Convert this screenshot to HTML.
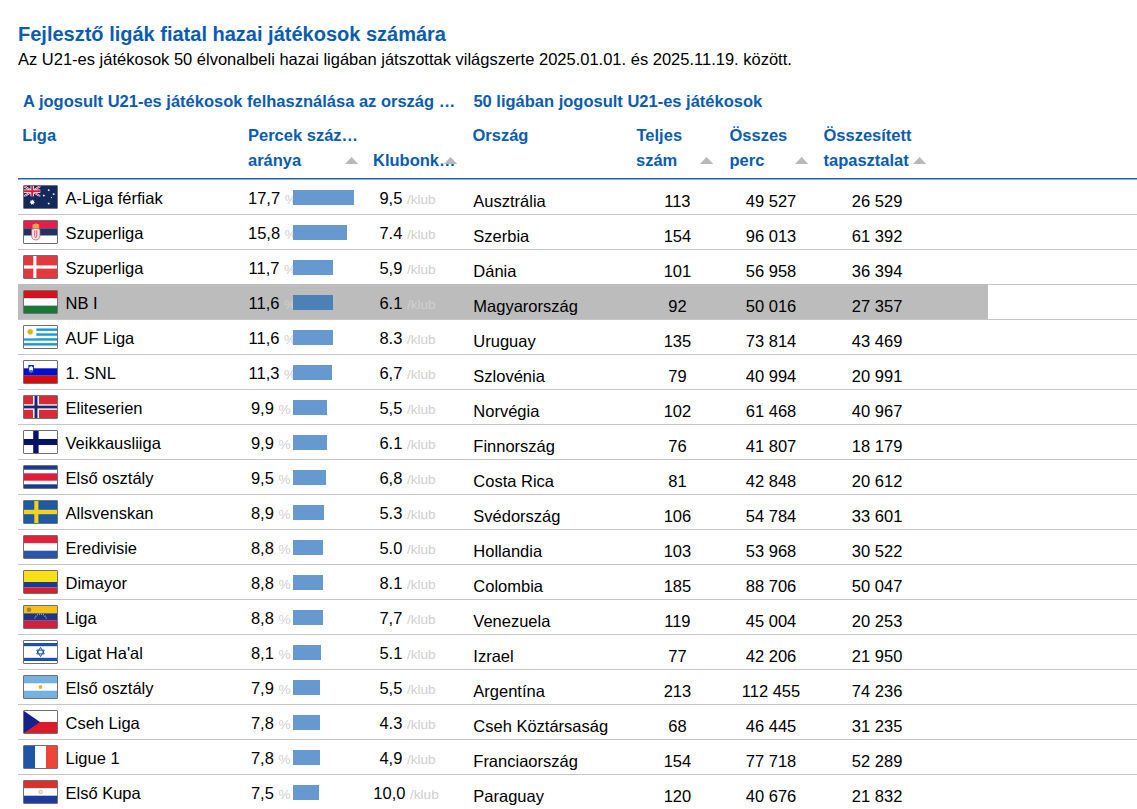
<!DOCTYPE html>
<html><head><meta charset="utf-8"><title>Fejlesztő ligák</title>
<style>
html,body{margin:0;padding:0;background:#fff;}
body{width:1137px;height:809px;overflow:hidden;position:relative;font-family:"Liberation Sans",sans-serif;color:#000;}
.t{position:absolute;line-height:1;white-space:nowrap;}
.sm{font-size:13.6px;color:#cfcfcf;}
.arr{position:absolute;}
.flag{position:absolute;left:23px;width:33px;height:22px;border:1px solid #707070;border-radius:1px;overflow:hidden;line-height:0;}
.flag svg{display:block;}
.bar{position:absolute;left:293px;height:15px;}
</style></head><body>
<div class="t" style="left:18.00px;top:24.07px;font-size:20px;font-weight:700;color:#0b5cb0;">Fejlesztő ligák fiatal hazai játékosok számára</div>
<div class="t" style="left:18.00px;top:51.03px;font-size:16.5px;">Az U21-es játékosok 50 élvonalbeli hazai ligában játszottak világszerte 2025.01.01. és 2025.11.19. között.</div>
<div class="t" style="left:23.00px;top:92.73px;font-size:16.5px;font-weight:700;color:#0b5cb0;">A jogosult U21-es játékosok felhasználása az ország …</div>
<div class="t" style="left:473.40px;top:92.73px;font-size:16.5px;font-weight:700;color:#0b5cb0;">50 ligában jogosult U21-es játékosok</div>
<div class="t" style="left:22.20px;top:126.73px;font-size:16.5px;font-weight:700;color:#0b5cb0;">Liga</div>
<div class="t" style="left:248.00px;top:126.73px;font-size:16.5px;font-weight:700;color:#0b5cb0;">Percek száz…</div>
<div class="t" style="left:248.00px;top:151.73px;font-size:16.5px;font-weight:700;color:#0b5cb0;">aránya</div>
<div class="t" style="left:373.00px;top:151.73px;font-size:16.5px;font-weight:700;color:#0b5cb0;">Klubonk…</div>
<div class="t" style="left:472.50px;top:126.73px;font-size:16.5px;font-weight:700;color:#0b5cb0;">Ország</div>
<div class="t" style="left:636.50px;top:126.73px;font-size:16.5px;font-weight:700;color:#0b5cb0;">Teljes</div>
<div class="t" style="left:636.00px;top:151.73px;font-size:16.5px;font-weight:700;color:#0b5cb0;">szám</div>
<div class="t" style="left:729.50px;top:126.73px;font-size:16.5px;font-weight:700;color:#0b5cb0;">Összes</div>
<div class="t" style="left:729.50px;top:151.73px;font-size:16.5px;font-weight:700;color:#0b5cb0;">perc</div>
<div class="t" style="left:823.50px;top:126.73px;font-size:16.5px;font-weight:700;color:#0b5cb0;">Összesített</div>
<div class="t" style="left:823.50px;top:151.73px;font-size:16.5px;font-weight:700;color:#0b5cb0;">tapasztalat</div>
<svg class="arr" style="left:344.5px;top:157px" width="13.2" height="7" viewBox="0 0 13.2 7"><polygon points="0,7 6.6,0 13.2,7" fill="#b9b9b9"/></svg>
<svg class="arr" style="left:444.4px;top:157px" width="13.2" height="7" viewBox="0 0 13.2 7"><polygon points="0,7 6.6,0 13.2,7" fill="#b9b9b9"/></svg>
<svg class="arr" style="left:700.2px;top:157px" width="13.2" height="7" viewBox="0 0 13.2 7"><polygon points="0,7 6.6,0 13.2,7" fill="#b9b9b9"/></svg>
<svg class="arr" style="left:794.5px;top:157px" width="13.2" height="7" viewBox="0 0 13.2 7"><polygon points="0,7 6.6,0 13.2,7" fill="#b9b9b9"/></svg>
<svg class="arr" style="left:912.7px;top:157px" width="13.2" height="7" viewBox="0 0 13.2 7"><polygon points="0,7 6.6,0 13.2,7" fill="#b9b9b9"/></svg>
<div style="position:absolute;left:18px;top:178px;width:1119px;height:1px;background:#1e64b6"></div>
<div style="position:absolute;left:18px;top:179px;width:1119px;height:1px;background:#8fb2da"></div>
<div style="position:absolute;left:18px;top:214px;width:1119px;height:1px;background:#c6c6c6"></div>
<div class="flag" style="top:185px"><svg width="33" height="22" viewBox="0 0 33 22" preserveAspectRatio="none"><rect width="33" height="22" fill="#13285c"/><g><clipPath id="cp"><rect width="16.5" height="10.5"/></clipPath><g clip-path="url(#cp)"><path d="M0,0L16.5,10.5M16.5,0L0,10.5" stroke="#fff" stroke-width="2"/><path d="M0,0L16.5,10.5M16.5,0L0,10.5" stroke="#d51a3a" stroke-width="0.9"/><path d="M8.25,0V10.5M0,5.25H16.5" stroke="#fff" stroke-width="3.4"/><path d="M8.25,0V10.5M0,5.25H16.5" stroke="#d51a3a" stroke-width="2"/></g></g><polygon points="8.30,13.50 9.00,14.84 10.49,14.55 9.88,15.94 11.03,16.92 9.57,17.31 9.51,18.82 8.30,17.92 7.09,18.82 7.03,17.31 5.57,16.92 6.72,15.94 6.11,14.55 7.60,14.84" fill="#fff"/><polygon points="24.70,2.90 24.98,3.61 25.72,3.39 25.33,4.06 25.97,4.49 25.21,4.61 25.26,5.37 24.70,4.85 24.14,5.37 24.19,4.61 23.43,4.49 24.07,4.06 23.68,3.39 24.42,3.61" fill="#fff"/><polygon points="29.70,6.90 29.98,7.61 30.72,7.39 30.33,8.06 30.97,8.49 30.21,8.61 30.26,9.37 29.70,8.85 29.14,9.37 29.19,8.61 28.43,8.49 29.07,8.06 28.68,7.39 29.42,7.61" fill="#fff"/><polygon points="19.80,8.30 20.08,9.01 20.82,8.79 20.43,9.46 21.07,9.89 20.31,10.01 20.36,10.77 19.80,10.25 19.24,10.77 19.29,10.01 18.53,9.89 19.17,9.46 18.78,8.79 19.52,9.01" fill="#fff"/><polygon points="27.40,10.80 27.64,11.28 28.16,11.35 27.78,11.72 27.87,12.25 27.40,12.00 26.93,12.25 27.02,11.72 26.64,11.35 27.16,11.28" fill="#fff"/><polygon points="24.70,16.30 24.98,17.01 25.72,16.79 25.33,17.46 25.97,17.89 25.21,18.01 25.26,18.77 24.70,18.25 24.14,18.77 24.19,18.01 23.43,17.89 24.07,17.46 23.68,16.79 24.42,17.01" fill="#fff"/></svg></div>
<div class="t" style="left:65.50px;top:189.83px;font-size:16.5px;">A-Liga férfiak</div>
<div class="t" style="left:222.40px;top:189.83px;font-size:16.5px;width:100px;text-align:center;">17,7 <span class="sm">%</span></div>
<div class="bar" style="top:190px;width:60.7px;background:#6699cf"></div>
<div class="t" style="left:357.50px;top:189.83px;font-size:16.5px;width:100px;text-align:center;">9,5 <span class="sm">/klub</span></div>
<div class="t" style="left:473.30px;top:192.83px;font-size:16.5px;">Ausztrália</div>
<div class="t" style="left:627.40px;top:192.83px;font-size:16.5px;width:100px;text-align:center;">113</div>
<div class="t" style="left:721.00px;top:192.83px;font-size:16.5px;width:100px;text-align:center;">49 527</div>
<div class="t" style="left:827.10px;top:192.83px;font-size:16.5px;width:100px;text-align:center;">26 529</div>
<div style="position:absolute;left:18px;top:249px;width:1119px;height:1px;background:#c6c6c6"></div>
<div class="flag" style="top:220px"><svg width="33" height="22" viewBox="0 0 33 22" preserveAspectRatio="none"><rect width="33" height="7.4" fill="#e41b4b"/><rect y="7.3" width="33" height="7.4" fill="#1d3462"/><rect y="14.7" width="33" height="7.3" fill="#fff"/><path d="M7.6,8.2Q11.8,6.6,16,8.2V14.5Q16,18.6,11.8,19Q7.6,18.6,7.6,14.5Z" fill="#f2e6e8"/><path d="M7.6,8.2Q11.8,6.6,16,8.2V14.5Q16,18.6,11.8,19Q7.6,18.6,7.6,14.5Z" fill="none" stroke="#d04050" stroke-width="0.7"/><path d="M10.3,9.5H13.3V14.2Q13.3,16.5,11.8,16.9Q10.3,16.5,10.3,14.2Z" fill="#d8485a"/><rect x="11.3" y="9.8" width="1" height="6" fill="#fff"/><path d="M8.5,3.6Q11.8,2,15.1,3.6V7.6H8.5Z" fill="#e3a64a"/><circle cx="11.8" cy="2.8" r="0.8" fill="#d09030"/></svg></div>
<div class="t" style="left:65.50px;top:224.83px;font-size:16.5px;">Szuperliga</div>
<div class="t" style="left:222.40px;top:224.83px;font-size:16.5px;width:100px;text-align:center;">15,8 <span class="sm">%</span></div>
<div class="bar" style="top:225px;width:54.2px;background:#6699cf"></div>
<div class="t" style="left:357.50px;top:224.83px;font-size:16.5px;width:100px;text-align:center;">7.4 <span class="sm">/klub</span></div>
<div class="t" style="left:473.30px;top:227.83px;font-size:16.5px;">Szerbia</div>
<div class="t" style="left:627.40px;top:227.83px;font-size:16.5px;width:100px;text-align:center;">154</div>
<div class="t" style="left:721.00px;top:227.83px;font-size:16.5px;width:100px;text-align:center;">96 013</div>
<div class="t" style="left:827.10px;top:227.83px;font-size:16.5px;width:100px;text-align:center;">61 392</div>
<div style="position:absolute;left:18px;top:284px;width:1119px;height:1px;background:#c6c6c6"></div>
<div class="flag" style="top:255px"><svg width="33" height="22" viewBox="0 0 33 22" preserveAspectRatio="none"><rect width="33" height="22" fill="#e2393f"/><rect x="9.3" width="3.1" height="22" fill="#fff"/><rect y="9.4" width="33" height="3.2" fill="#fff"/></svg></div>
<div class="t" style="left:65.50px;top:259.83px;font-size:16.5px;">Szuperliga</div>
<div class="t" style="left:222.40px;top:259.83px;font-size:16.5px;width:100px;text-align:center;">11,7 <span class="sm">%</span></div>
<div class="bar" style="top:260px;width:40.1px;background:#6699cf"></div>
<div class="t" style="left:357.50px;top:259.83px;font-size:16.5px;width:100px;text-align:center;">5,9 <span class="sm">/klub</span></div>
<div class="t" style="left:473.30px;top:262.83px;font-size:16.5px;">Dánia</div>
<div class="t" style="left:627.40px;top:262.83px;font-size:16.5px;width:100px;text-align:center;">101</div>
<div class="t" style="left:721.00px;top:262.83px;font-size:16.5px;width:100px;text-align:center;">56 958</div>
<div class="t" style="left:827.10px;top:262.83px;font-size:16.5px;width:100px;text-align:center;">36 394</div>
<div style="position:absolute;left:18px;top:284px;width:970px;height:35px;background:#bcbcbc"></div>
<div style="position:absolute;left:18px;top:319px;width:1119px;height:1px;background:#c6c6c6"></div>
<div class="flag" style="top:290px"><svg width="33" height="22" viewBox="0 0 33 22" preserveAspectRatio="none"><rect width="33" height="7.4" fill="#d8101c"/><rect y="7.3" width="33" height="7.4" fill="#fff"/><rect y="14.7" width="33" height="7.3" fill="#187a36"/></svg></div>
<div class="t" style="left:65.50px;top:294.83px;font-size:16.5px;">NB I</div>
<div class="t" style="left:222.40px;top:294.83px;font-size:16.5px;width:100px;text-align:center;">11,6 <span class="sm">%</span></div>
<div class="bar" style="top:295px;width:39.8px;background:#4c81b8"></div>
<div class="t" style="left:357.50px;top:294.83px;font-size:16.5px;width:100px;text-align:center;">6.1 <span class="sm">/klub</span></div>
<div class="t" style="left:473.30px;top:297.83px;font-size:16.5px;">Magyarország</div>
<div class="t" style="left:627.40px;top:297.83px;font-size:16.5px;width:100px;text-align:center;">92</div>
<div class="t" style="left:721.00px;top:297.83px;font-size:16.5px;width:100px;text-align:center;">50 016</div>
<div class="t" style="left:827.10px;top:297.83px;font-size:16.5px;width:100px;text-align:center;">27 357</div>
<div style="position:absolute;left:18px;top:354px;width:1119px;height:1px;background:#c6c6c6"></div>
<div class="flag" style="top:325px"><svg width="33" height="22" viewBox="0 0 33 22" preserveAspectRatio="none"><rect width="33" height="22" fill="#fff"/><rect y="2.44" width="33" height="2.44" fill="#1a9ad8"/><rect y="7.33" width="33" height="2.44" fill="#1a9ad8"/><rect y="12.22" width="33" height="2.44" fill="#1a9ad8"/><rect y="17.11" width="33" height="2.44" fill="#1a9ad8"/><rect width="12.3" height="12.22" fill="#fff"/><polygon points="6.20,2.40 6.68,3.40 7.50,2.66 7.56,3.76 8.60,3.40 8.24,4.44 9.34,4.50 8.60,5.32 9.60,5.80 8.60,6.28 9.34,7.10 8.24,7.16 8.60,8.20 7.56,7.84 7.50,8.94 6.68,8.20 6.20,9.20 5.72,8.20 4.90,8.94 4.84,7.84 3.80,8.20 4.16,7.16 3.06,7.10 3.80,6.28 2.80,5.80 3.80,5.32 3.06,4.50 4.16,4.44 3.80,3.40 4.84,3.76 4.90,2.66 5.72,3.40" fill="#f0c040"/><circle cx="6.2" cy="5.8" r="2.4" fill="#e0b020"/></svg></div>
<div class="t" style="left:65.50px;top:329.83px;font-size:16.5px;">AUF Liga</div>
<div class="t" style="left:222.40px;top:329.83px;font-size:16.5px;width:100px;text-align:center;">11,6 <span class="sm">%</span></div>
<div class="bar" style="top:330px;width:39.8px;background:#6699cf"></div>
<div class="t" style="left:357.50px;top:329.83px;font-size:16.5px;width:100px;text-align:center;">8.3 <span class="sm">/klub</span></div>
<div class="t" style="left:473.30px;top:332.83px;font-size:16.5px;">Uruguay</div>
<div class="t" style="left:627.40px;top:332.83px;font-size:16.5px;width:100px;text-align:center;">135</div>
<div class="t" style="left:721.00px;top:332.83px;font-size:16.5px;width:100px;text-align:center;">73 814</div>
<div class="t" style="left:827.10px;top:332.83px;font-size:16.5px;width:100px;text-align:center;">43 469</div>
<div style="position:absolute;left:18px;top:389px;width:1119px;height:1px;background:#c6c6c6"></div>
<div class="flag" style="top:360px"><svg width="33" height="22" viewBox="0 0 33 22" preserveAspectRatio="none"><rect width="33" height="7.4" fill="#fff"/><rect y="7.3" width="33" height="7.4" fill="#0410c8"/><rect y="14.7" width="33" height="7.3" fill="#d80a0a"/><path d="M4.3,4H9.9V8.5Q9.9,11.8,7.1,12.6Q4.3,11.8,4.3,8.5Z" fill="#1030d0"/><path d="M5.2,6.5L7.1,5L9,6.5V8.8Q9,11,7.1,11.6Q5.2,11,5.2,8.8Z" fill="#fff"/><path d="M5.2,9.6Q7.1,8.6,9,9.6V10.4Q7.1,11.8,5.2,10.4Z" fill="#4060e0"/></svg></div>
<div class="t" style="left:65.50px;top:364.83px;font-size:16.5px;">1. SNL</div>
<div class="t" style="left:222.40px;top:364.83px;font-size:16.5px;width:100px;text-align:center;">11,3 <span class="sm">%</span></div>
<div class="bar" style="top:365px;width:38.8px;background:#6699cf"></div>
<div class="t" style="left:357.50px;top:364.83px;font-size:16.5px;width:100px;text-align:center;">6,7 <span class="sm">/klub</span></div>
<div class="t" style="left:473.30px;top:367.83px;font-size:16.5px;">Szlovénia</div>
<div class="t" style="left:627.40px;top:367.83px;font-size:16.5px;width:100px;text-align:center;">79</div>
<div class="t" style="left:721.00px;top:367.83px;font-size:16.5px;width:100px;text-align:center;">40 994</div>
<div class="t" style="left:827.10px;top:367.83px;font-size:16.5px;width:100px;text-align:center;">20 991</div>
<div style="position:absolute;left:18px;top:424px;width:1119px;height:1px;background:#c6c6c6"></div>
<div class="flag" style="top:395px"><svg width="33" height="22" viewBox="0 0 33 22" preserveAspectRatio="none"><rect width="33" height="22" fill="#d72a34"/><rect x="9" width="6" height="22" fill="#fff"/><rect y="8.25" width="33" height="5.5" fill="#fff"/><rect x="10.5" width="3" height="22" fill="#1a2a72"/><rect y="9.6" width="33" height="2.8" fill="#1a2a72"/></svg></div>
<div class="t" style="left:65.50px;top:399.83px;font-size:16.5px;">Eliteserien</div>
<div class="t" style="left:220.70px;top:399.83px;font-size:16.5px;width:100px;text-align:center;">9,9 <span class="sm">%</span></div>
<div class="bar" style="top:400px;width:34.0px;background:#6699cf"></div>
<div class="t" style="left:357.50px;top:399.83px;font-size:16.5px;width:100px;text-align:center;">5,5 <span class="sm">/klub</span></div>
<div class="t" style="left:473.30px;top:402.83px;font-size:16.5px;">Norvégia</div>
<div class="t" style="left:627.40px;top:402.83px;font-size:16.5px;width:100px;text-align:center;">102</div>
<div class="t" style="left:721.00px;top:402.83px;font-size:16.5px;width:100px;text-align:center;">61 468</div>
<div class="t" style="left:827.10px;top:402.83px;font-size:16.5px;width:100px;text-align:center;">40 967</div>
<div style="position:absolute;left:18px;top:459px;width:1119px;height:1px;background:#c6c6c6"></div>
<div class="flag" style="top:430px"><svg width="33" height="22" viewBox="0 0 33 22" preserveAspectRatio="none"><rect width="33" height="22" fill="#fff"/><rect x="9.2" width="5.4" height="22" fill="#04126a"/><rect y="8" width="33" height="6" fill="#04126a"/></svg></div>
<div class="t" style="left:65.50px;top:434.83px;font-size:16.5px;">Veikkausliiga</div>
<div class="t" style="left:220.70px;top:434.83px;font-size:16.5px;width:100px;text-align:center;">9,9 <span class="sm">%</span></div>
<div class="bar" style="top:435px;width:34.0px;background:#6699cf"></div>
<div class="t" style="left:357.50px;top:434.83px;font-size:16.5px;width:100px;text-align:center;">6.1 <span class="sm">/klub</span></div>
<div class="t" style="left:473.30px;top:437.83px;font-size:16.5px;">Finnország</div>
<div class="t" style="left:627.40px;top:437.83px;font-size:16.5px;width:100px;text-align:center;">76</div>
<div class="t" style="left:721.00px;top:437.83px;font-size:16.5px;width:100px;text-align:center;">41 807</div>
<div class="t" style="left:827.10px;top:437.83px;font-size:16.5px;width:100px;text-align:center;">18 179</div>
<div style="position:absolute;left:18px;top:494px;width:1119px;height:1px;background:#c6c6c6"></div>
<div class="flag" style="top:465px"><svg width="33" height="22" viewBox="0 0 33 22" preserveAspectRatio="none"><rect width="33" height="22" fill="#fff"/><rect width="33" height="3.7" fill="#1a3c8a"/><rect y="18.3" width="33" height="3.7" fill="#1a3c8a"/><rect y="7.3" width="33" height="7.4" fill="#e01c3c"/></svg></div>
<div class="t" style="left:65.50px;top:469.83px;font-size:16.5px;">Első osztály</div>
<div class="t" style="left:220.70px;top:469.83px;font-size:16.5px;width:100px;text-align:center;">9,5 <span class="sm">%</span></div>
<div class="bar" style="top:470px;width:32.6px;background:#6699cf"></div>
<div class="t" style="left:357.50px;top:469.83px;font-size:16.5px;width:100px;text-align:center;">6,8 <span class="sm">/klub</span></div>
<div class="t" style="left:473.30px;top:472.83px;font-size:16.5px;">Costa Rica</div>
<div class="t" style="left:627.40px;top:472.83px;font-size:16.5px;width:100px;text-align:center;">81</div>
<div class="t" style="left:721.00px;top:472.83px;font-size:16.5px;width:100px;text-align:center;">42 848</div>
<div class="t" style="left:827.10px;top:472.83px;font-size:16.5px;width:100px;text-align:center;">20 612</div>
<div style="position:absolute;left:18px;top:529px;width:1119px;height:1px;background:#c6c6c6"></div>
<div class="flag" style="top:500px"><svg width="33" height="22" viewBox="0 0 33 22" preserveAspectRatio="none"><rect width="33" height="22" fill="#1d5aa6"/><rect x="10.3" width="4.1" height="22" fill="#f5d21c"/><rect y="8.8" width="33" height="4.4" fill="#f5d21c"/></svg></div>
<div class="t" style="left:65.50px;top:504.83px;font-size:16.5px;">Allsvenskan</div>
<div class="t" style="left:220.70px;top:504.83px;font-size:16.5px;width:100px;text-align:center;">8,9 <span class="sm">%</span></div>
<div class="bar" style="top:505px;width:30.5px;background:#6699cf"></div>
<div class="t" style="left:357.50px;top:504.83px;font-size:16.5px;width:100px;text-align:center;">5.3 <span class="sm">/klub</span></div>
<div class="t" style="left:473.30px;top:507.83px;font-size:16.5px;">Svédország</div>
<div class="t" style="left:627.40px;top:507.83px;font-size:16.5px;width:100px;text-align:center;">106</div>
<div class="t" style="left:721.00px;top:507.83px;font-size:16.5px;width:100px;text-align:center;">54 784</div>
<div class="t" style="left:827.10px;top:507.83px;font-size:16.5px;width:100px;text-align:center;">33 601</div>
<div style="position:absolute;left:18px;top:564px;width:1119px;height:1px;background:#c6c6c6"></div>
<div class="flag" style="top:535px"><svg width="33" height="22" viewBox="0 0 33 22" preserveAspectRatio="none"><rect width="33" height="7.4" fill="#e2223a"/><rect y="7.3" width="33" height="7.4" fill="#fff"/><rect y="14.7" width="33" height="7.3" fill="#2a55a8"/></svg></div>
<div class="t" style="left:65.50px;top:539.83px;font-size:16.5px;">Eredivisie</div>
<div class="t" style="left:220.70px;top:539.83px;font-size:16.5px;width:100px;text-align:center;">8,8 <span class="sm">%</span></div>
<div class="bar" style="top:540px;width:30.2px;background:#6699cf"></div>
<div class="t" style="left:357.50px;top:539.83px;font-size:16.5px;width:100px;text-align:center;">5.0 <span class="sm">/klub</span></div>
<div class="t" style="left:473.30px;top:542.83px;font-size:16.5px;">Hollandia</div>
<div class="t" style="left:627.40px;top:542.83px;font-size:16.5px;width:100px;text-align:center;">103</div>
<div class="t" style="left:721.00px;top:542.83px;font-size:16.5px;width:100px;text-align:center;">53 968</div>
<div class="t" style="left:827.10px;top:542.83px;font-size:16.5px;width:100px;text-align:center;">30 522</div>
<div style="position:absolute;left:18px;top:599px;width:1119px;height:1px;background:#c6c6c6"></div>
<div class="flag" style="top:570px"><svg width="33" height="22" viewBox="0 0 33 22" preserveAspectRatio="none"><rect width="33" height="11" fill="#f9e014"/><rect y="11" width="33" height="5.5" fill="#1a3a9a"/><rect y="16.5" width="33" height="5.5" fill="#d8202c"/></svg></div>
<div class="t" style="left:65.50px;top:574.83px;font-size:16.5px;">Dimayor</div>
<div class="t" style="left:220.70px;top:574.83px;font-size:16.5px;width:100px;text-align:center;">8,8 <span class="sm">%</span></div>
<div class="bar" style="top:575px;width:30.2px;background:#6699cf"></div>
<div class="t" style="left:357.50px;top:574.83px;font-size:16.5px;width:100px;text-align:center;">8.1 <span class="sm">/klub</span></div>
<div class="t" style="left:473.30px;top:577.83px;font-size:16.5px;">Colombia</div>
<div class="t" style="left:627.40px;top:577.83px;font-size:16.5px;width:100px;text-align:center;">185</div>
<div class="t" style="left:721.00px;top:577.83px;font-size:16.5px;width:100px;text-align:center;">88 706</div>
<div class="t" style="left:827.10px;top:577.83px;font-size:16.5px;width:100px;text-align:center;">50 047</div>
<div style="position:absolute;left:18px;top:634px;width:1119px;height:1px;background:#c6c6c6"></div>
<div class="flag" style="top:605px"><svg width="33" height="22" viewBox="0 0 33 22" preserveAspectRatio="none"><rect width="33" height="7.4" fill="#f6c21a"/><rect y="7.3" width="33" height="7.4" fill="#1d3484"/><rect y="14.7" width="33" height="7.3" fill="#d0203c"/><circle cx="5" cy="3.7" r="2.3" fill="#a08040"/><circle cx="10.86" cy="11.95" r="0.55" fill="#ddd"/><circle cx="11.90" cy="10.14" r="0.55" fill="#ddd"/><circle cx="13.50" cy="8.80" r="0.55" fill="#ddd"/><circle cx="15.46" cy="8.09" r="0.55" fill="#ddd"/><circle cx="17.54" cy="8.09" r="0.55" fill="#ddd"/><circle cx="19.50" cy="8.80" r="0.55" fill="#ddd"/><circle cx="21.10" cy="10.14" r="0.55" fill="#ddd"/><circle cx="22.14" cy="11.95" r="0.55" fill="#ddd"/></svg></div>
<div class="t" style="left:65.50px;top:609.83px;font-size:16.5px;">Liga</div>
<div class="t" style="left:220.70px;top:609.83px;font-size:16.5px;width:100px;text-align:center;">8,8 <span class="sm">%</span></div>
<div class="bar" style="top:610px;width:30.2px;background:#6699cf"></div>
<div class="t" style="left:357.50px;top:609.83px;font-size:16.5px;width:100px;text-align:center;">7,7 <span class="sm">/klub</span></div>
<div class="t" style="left:473.30px;top:612.83px;font-size:16.5px;">Venezuela</div>
<div class="t" style="left:627.40px;top:612.83px;font-size:16.5px;width:100px;text-align:center;">119</div>
<div class="t" style="left:721.00px;top:612.83px;font-size:16.5px;width:100px;text-align:center;">45 004</div>
<div class="t" style="left:827.10px;top:612.83px;font-size:16.5px;width:100px;text-align:center;">20 253</div>
<div style="position:absolute;left:18px;top:669px;width:1119px;height:1px;background:#c6c6c6"></div>
<div class="flag" style="top:640px"><svg width="33" height="22" viewBox="0 0 33 22" preserveAspectRatio="none"><rect width="33" height="22" fill="#fff"/><rect y="2" width="33" height="3.2" fill="#1d4fb0"/><rect y="16.8" width="33" height="3.2" fill="#1d4fb0"/><polygon points="16.5,6.4 20.3,12.9 12.7,12.9" fill="none" stroke="#1d4fb0" stroke-width="1"/><polygon points="16.5,15.6 20.3,9.1 12.7,9.1" fill="none" stroke="#1d4fb0" stroke-width="1"/></svg></div>
<div class="t" style="left:65.50px;top:644.83px;font-size:16.5px;">Ligat Ha'al</div>
<div class="t" style="left:220.70px;top:644.83px;font-size:16.5px;width:100px;text-align:center;">8,1 <span class="sm">%</span></div>
<div class="bar" style="top:645px;width:27.8px;background:#6699cf"></div>
<div class="t" style="left:357.50px;top:644.83px;font-size:16.5px;width:100px;text-align:center;">5.1 <span class="sm">/klub</span></div>
<div class="t" style="left:473.30px;top:647.83px;font-size:16.5px;">Izrael</div>
<div class="t" style="left:627.40px;top:647.83px;font-size:16.5px;width:100px;text-align:center;">77</div>
<div class="t" style="left:721.00px;top:647.83px;font-size:16.5px;width:100px;text-align:center;">42 206</div>
<div class="t" style="left:827.10px;top:647.83px;font-size:16.5px;width:100px;text-align:center;">21 950</div>
<div style="position:absolute;left:18px;top:704px;width:1119px;height:1px;background:#c6c6c6"></div>
<div class="flag" style="top:675px"><svg width="33" height="22" viewBox="0 0 33 22" preserveAspectRatio="none"><rect width="33" height="22" fill="#fff"/><rect width="33" height="7.3" fill="#75b2e2"/><rect y="14.7" width="33" height="7.3" fill="#75b2e2"/><circle cx="16.5" cy="11" r="1.9" fill="#f0b020"/></svg></div>
<div class="t" style="left:65.50px;top:679.83px;font-size:16.5px;">Első osztály</div>
<div class="t" style="left:220.70px;top:679.83px;font-size:16.5px;width:100px;text-align:center;">7,9 <span class="sm">%</span></div>
<div class="bar" style="top:680px;width:27.1px;background:#6699cf"></div>
<div class="t" style="left:357.50px;top:679.83px;font-size:16.5px;width:100px;text-align:center;">5,5 <span class="sm">/klub</span></div>
<div class="t" style="left:473.30px;top:682.83px;font-size:16.5px;">Argentína</div>
<div class="t" style="left:627.40px;top:682.83px;font-size:16.5px;width:100px;text-align:center;">213</div>
<div class="t" style="left:721.00px;top:682.83px;font-size:16.5px;width:100px;text-align:center;">112 455</div>
<div class="t" style="left:827.10px;top:682.83px;font-size:16.5px;width:100px;text-align:center;">74 236</div>
<div style="position:absolute;left:18px;top:739px;width:1119px;height:1px;background:#c6c6c6"></div>
<div class="flag" style="top:710px"><svg width="33" height="22" viewBox="0 0 33 22" preserveAspectRatio="none"><rect width="33" height="11" fill="#fff"/><rect y="11" width="33" height="11" fill="#dc1a2a"/><polygon points="0,0 16,11 0,22" fill="#14228a"/></svg></div>
<div class="t" style="left:65.50px;top:714.83px;font-size:16.5px;">Cseh Liga</div>
<div class="t" style="left:220.70px;top:714.83px;font-size:16.5px;width:100px;text-align:center;">7,8 <span class="sm">%</span></div>
<div class="bar" style="top:715px;width:26.8px;background:#6699cf"></div>
<div class="t" style="left:357.50px;top:714.83px;font-size:16.5px;width:100px;text-align:center;">4.3 <span class="sm">/klub</span></div>
<div class="t" style="left:473.30px;top:717.83px;font-size:16.5px;">Cseh Köztársaság</div>
<div class="t" style="left:627.40px;top:717.83px;font-size:16.5px;width:100px;text-align:center;">68</div>
<div class="t" style="left:721.00px;top:717.83px;font-size:16.5px;width:100px;text-align:center;">46 445</div>
<div class="t" style="left:827.10px;top:717.83px;font-size:16.5px;width:100px;text-align:center;">31 235</div>
<div style="position:absolute;left:18px;top:774px;width:1119px;height:1px;background:#c6c6c6"></div>
<div class="flag" style="top:745px"><svg width="33" height="22" viewBox="0 0 33 22" preserveAspectRatio="none"><rect width="11" height="22" fill="#1d55a8"/><rect x="11" width="11" height="22" fill="#fff"/><rect x="22" width="11" height="22" fill="#ee4538"/></svg></div>
<div class="t" style="left:65.50px;top:749.83px;font-size:16.5px;">Ligue 1</div>
<div class="t" style="left:220.70px;top:749.83px;font-size:16.5px;width:100px;text-align:center;">7,8 <span class="sm">%</span></div>
<div class="bar" style="top:750px;width:26.8px;background:#6699cf"></div>
<div class="t" style="left:357.50px;top:749.83px;font-size:16.5px;width:100px;text-align:center;">4,9 <span class="sm">/klub</span></div>
<div class="t" style="left:473.30px;top:752.83px;font-size:16.5px;">Franciaország</div>
<div class="t" style="left:627.40px;top:752.83px;font-size:16.5px;width:100px;text-align:center;">154</div>
<div class="t" style="left:721.00px;top:752.83px;font-size:16.5px;width:100px;text-align:center;">77 718</div>
<div class="t" style="left:827.10px;top:752.83px;font-size:16.5px;width:100px;text-align:center;">52 289</div>
<div style="position:absolute;left:18px;top:809px;width:1119px;height:1px;background:#c6c6c6"></div>
<div class="flag" style="top:780px"><svg width="33" height="22" viewBox="0 0 33 22" preserveAspectRatio="none"><rect width="33" height="7.4" fill="#d8302a"/><rect y="7.3" width="33" height="7.4" fill="#fff"/><rect y="14.7" width="33" height="7.3" fill="#1d3aa0"/><circle cx="16.5" cy="11" r="2.1" fill="#b8c8a0"/><circle cx="16.5" cy="11" r="1.1" fill="#f4f4f0"/></svg></div>
<div class="t" style="left:65.50px;top:784.83px;font-size:16.5px;">Első Kupa</div>
<div class="t" style="left:220.70px;top:784.83px;font-size:16.5px;width:100px;text-align:center;">7,5 <span class="sm">%</span></div>
<div class="bar" style="top:785px;width:25.7px;background:#6699cf"></div>
<div class="t" style="left:356.00px;top:784.83px;font-size:16.5px;width:100px;text-align:center;">10,0 <span class="sm">/klub</span></div>
<div class="t" style="left:473.30px;top:787.83px;font-size:16.5px;">Paraguay</div>
<div class="t" style="left:627.40px;top:787.83px;font-size:16.5px;width:100px;text-align:center;">120</div>
<div class="t" style="left:721.00px;top:787.83px;font-size:16.5px;width:100px;text-align:center;">40 676</div>
<div class="t" style="left:827.10px;top:787.83px;font-size:16.5px;width:100px;text-align:center;">21 832</div>
</body></html>
